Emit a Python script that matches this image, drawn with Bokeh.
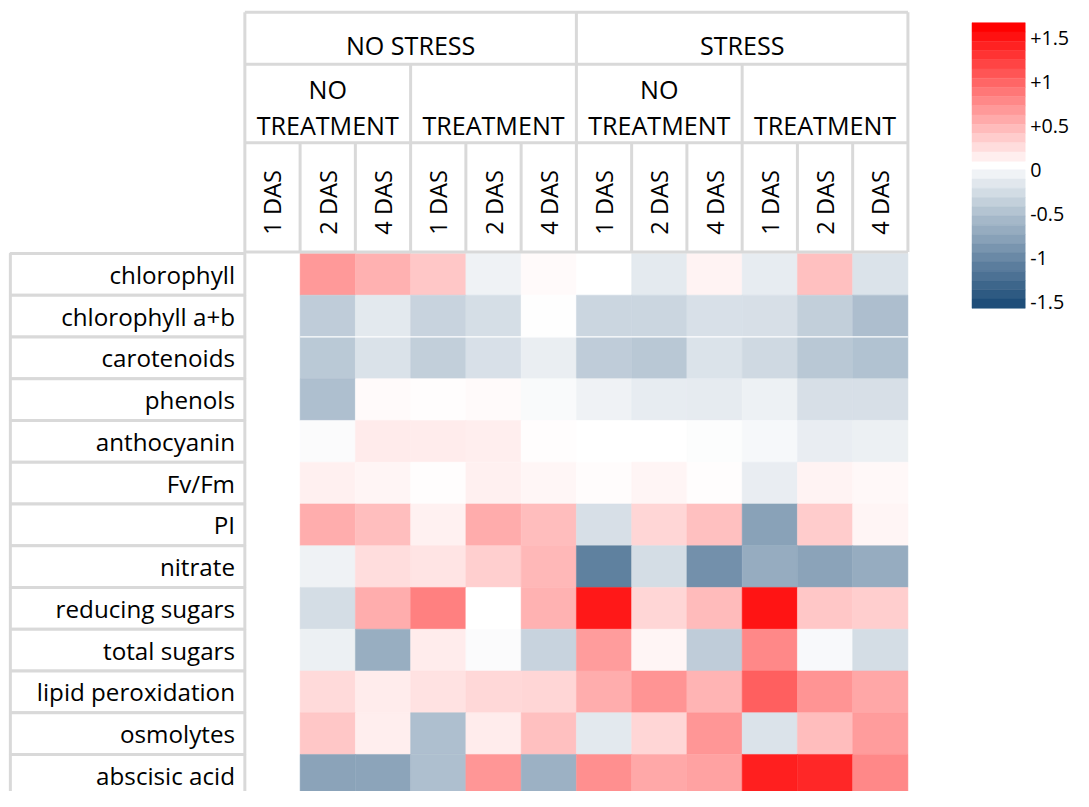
import numpy as np
from bokeh.plotting import figure
from bokeh.models import Range1d
from bokeh.core.properties import value
from bokeh.embed import file_html
from bokeh.resources import INLINE

# ---------------- data ----------------
row_labels = ["chlorophyll", "chlorophyll a+b", "carotenoids", "phenols", "anthocyanin",
              "Fv/Fm", "PI", "nitrate", "reducing sugars", "total sugars",
              "lipid peroxidation", "osmolytes", "abscisic acid"]
stress_labels = ["NO STRESS", "STRESS"]
treatment_labels = [["NO", "TREATMENT"], ["TREATMENT"], ["NO", "TREATMENT"], ["TREATMENT"]]
das_labels = ["1 DAS", "2 DAS", "4 DAS"] * 4
legend_ticks = [1.5, 1.0, 0.5, 0.0, -0.5, -1.0, -1.5]
legend_tick_labels = ["+1.5", "+1", "+0.5", "0", "-0.5", "-1", "-1.5"]

# columns: NS-NT 1,2,4 | NS-T 1,2,4 | S-NT 1,2,4 | S-T 1,2,4   (None = no data)
chlorophyll        = [None, 0.60, 0.46, 0.33, -0.11, 0.03, 0.00, -0.18, 0.07, -0.16, 0.37, -0.24]
chlorophyll_ab     = [None, -0.43, -0.19, -0.37, -0.28, -0.01, -0.35, -0.35, -0.26, -0.27, -0.41, -0.55]
carotenoids        = [None, -0.46, -0.25, -0.41, -0.26, -0.14, -0.43, -0.47, -0.24, -0.32, -0.47, -0.52]
phenols            = [None, -0.54, 0.03, 0.01, 0.03, -0.04, -0.11, -0.16, -0.17, -0.12, -0.27, -0.27]
anthocyanin        = [None, -0.03, 0.12, 0.11, 0.10, 0.01, 0.00, 0.00, -0.02, -0.06, -0.15, -0.13]
fvfm               = [None, 0.09, 0.06, 0.01, 0.09, 0.05, 0.02, 0.06, 0.01, -0.15, 0.07, 0.04]
pi                 = [None, 0.48, 0.38, 0.08, 0.49, 0.39, -0.27, 0.24, 0.37, -0.79, 0.30, 0.06]
nitrate            = [None, -0.11, 0.20, 0.16, 0.28, 0.42, -1.07, -0.29, -0.94, -0.70, -0.78, -0.70]
reducing_sugars    = [None, -0.29, 0.48, 0.75, 0.00, 0.45, 1.36, 0.24, 0.40, 1.38, 0.33, 0.29]
total_sugars       = [None, -0.13, -0.69, 0.11, -0.03, -0.37, 0.58, 0.06, -0.43, 0.70, -0.05, -0.29]
lipid_peroxidation = [None, 0.22, 0.11, 0.17, 0.23, 0.24, 0.48, 0.63, 0.44, 0.94, 0.63, 0.52]
osmolytes          = [None, 0.33, 0.10, -0.54, 0.11, 0.37, -0.19, 0.24, 0.62, -0.24, 0.39, 0.58]
abscisic_acid      = [None, -0.78, -0.77, -0.54, 0.62, -0.66, 0.66, 0.51, 0.55, 1.32, 1.27, 0.70]

values = [chlorophyll, chlorophyll_ab, carotenoids, phenols, anthocyanin, fvfm, pi, nitrate,
          reducing_sugars, total_sugars, lipid_peroxidation, osmolytes, abscisic_acid]

VMAX = 1.5
NEG = (31, 78, 121)   # #1F4E79
POS = (255, 0, 0)


def to_color(v):
    if v >= 0:
        t = min(v / VMAX, 1.0)
        c = POS
    else:
        t = min(-v / VMAX, 1.0)
        c = NEG
    r, g, b = (round(255 - (255 - k) * t) for k in c)
    return "#%02x%02x%02x" % (r, g, b)


# ---------------- layout: the frame shows a 1089 x 807 "sheet" ----------------
W, H = 1073, 791
SHEET_W, SHEET_H = 1089.0, 807.0
S = W / SHEET_W           # font scaling so texts keep their proportions
CW = 56.08                # column width (sheet px)
RH = 42.6                 # row height (sheet px)
GX, GY = 248.0, 258.0     # sheet px of grid origin (left of column 0 / top of row 0)


def X(px):
    return (px - GX) / CW


def Y(py):
    return (py - GY) / RH


def fs(px):
    return "%.1fpx" % (px * S)


p = figure(width=W, height=H, output_backend="svg", toolbar_location=None,
           x_range=Range1d(X(0), X(SHEET_W)), y_range=Range1d(Y(SHEET_H), Y(0)),
           min_border=0, outline_line_color=None, background_fill_color="white",
           border_fill_color="white")
p.xaxis.visible = False
p.yaxis.visible = False
p.xgrid.visible = False
p.ygrid.visible = False

FONT = value("Open Sans")
GREY = "#d9d9d9"
ncol = len(das_labels)
nrow = len(row_labels)

# ---------------- heatmap cells ----------------
xs, ys, cs = [], [], []
for j, row in enumerate(values):
    for i, v in enumerate(row):
        if v is None:
            continue
        xs.append(i + 0.5)
        ys.append(j + 0.5)
        cs.append(to_color(v))
p.rect(x=xs, y=ys, width=1, height=1, fill_color=cs, line_color=cs, line_width=0.5)
p.segment(x0=[1], y0=[2], x1=[ncol], y1=[2], line_color="white", line_width=1.2)

# ---------------- row label boxes ----------------
p.quad(left=[X(10)] * nrow, right=[0] * nrow, top=list(range(nrow)),
       bottom=[j + 1 for j in range(nrow)], fill_color="white", line_color=GREY, line_width=3)
p.text(x=[X(238)] * nrow, y=[j + 0.5 for j in range(nrow)], text=row_labels,
       text_font=FONT, text_font_size=fs(24.6), text_align="right", text_baseline="middle",
       text_color="black")

# ---------------- column header ----------------
y_top, y_a, y_b, y_bot = Y(12), Y(65), Y(145), Y(256.5)
n_stress = len(stress_labels)
n_treat = len(treatment_labels)
per_treat = ncol // n_treat
per_stress = ncol // n_stress
hx0, hy0, hx1, hy1 = [], [], [], []
for yy in (y_top, y_a, y_b, y_bot):
    hx0.append(0); hx1.append(ncol); hy0.append(yy); hy1.append(yy)
for i in range(ncol + 1):
    if i % per_stress == 0:
        y_start = y_top
    elif i % per_treat == 0:
        y_start = y_a
    else:
        y_start = y_b
    hx0.append(i); hx1.append(i); hy0.append(y_start); hy1.append(y_bot)
p.segment(x0=hx0, y0=hy0, x1=hx1, y1=hy1, line_color=GREY, line_width=3)

p.text(x=[(k + 0.5) * per_stress for k in range(n_stress)], y=[Y(45)] * n_stress,
       text=stress_labels, text_font=FONT, text_font_size=fs(25.5), text_align="center",
       text_baseline="middle", text_color="black")
tx, ty, tt = [], [], []
for k, parts in enumerate(treatment_labels):
    cx = (k + 0.5) * per_treat
    line_ys = [Y(90), Y(127)] if len(parts) == 2 else [Y(127)]
    for part, yy in zip(parts, line_ys):
        tx.append(cx); ty.append(yy); tt.append(part)
p.text(x=tx, y=ty, text=tt, text_font=FONT, text_font_size=fs(25.5), text_align="center",
       text_baseline="middle", text_color="black")
p.text(x=[i + 0.5 for i in range(ncol)], y=[Y(206)] * ncol, text=das_labels, angle=np.pi / 2,
       text_font=FONT, text_font_size=fs(24), text_align="center", text_baseline="middle",
       text_color="black")

# ---------------- legend (stepped colour bar) ----------------
nsteps = 15
lx0, lx1 = X(986), X(1040)
red_top, red_bot = 22.7, 164.0
blue_top, blue_bot = 172.7, 314.0
rh_px = (red_bot - red_top) / nsteps
bh_px = (blue_bot - blue_top) / nsteps
lt, lb, lc = [], [], []
for k in range(nsteps):
    lt.append(Y(red_top + k * rh_px)); lb.append(Y(red_top + (k + 1) * rh_px))
    lc.append(to_color(VMAX * (1 - k / nsteps)))
for k in range(nsteps):
    lt.append(Y(blue_top + k * bh_px)); lb.append(Y(blue_top + (k + 1) * bh_px))
    lc.append(to_color(-VMAX * (k + 1) / nsteps))
p.quad(left=[lx0] * len(lt), right=[lx1] * len(lt), top=lt, bottom=lb,
       fill_color=lc, line_color=lc, line_width=0.5)

LEG_ZERO, LEG_PX = 173.0, 89.8
p.text(x=[X(1045)] * len(legend_ticks), y=[Y(LEG_ZERO - v * LEG_PX) for v in legend_ticks],
       text=legend_tick_labels, text_font=FONT, text_font_size=fs(20), text_align="left",
       text_baseline="middle", text_color="black")

open("out.html", "w").write(file_html(p, INLINE))
